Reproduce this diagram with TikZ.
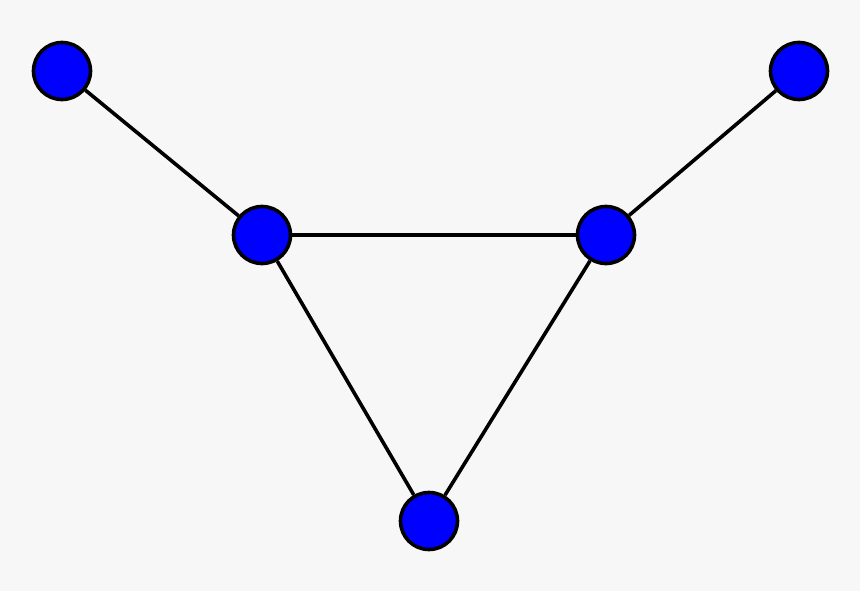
\documentclass[tikz,border=0pt]{standalone}
\begin{document}
\begin{tikzpicture}[x=1pt,y=-1pt,
  vtx/.style={circle,draw=black,fill=blue,line width=3.6pt,minimum size=57pt,inner sep=0pt},
  edge/.style={line width=3.6pt,draw=black}]
\fill[black!3] (0,0) rectangle (860,591);
\useasboundingbox (0,0) rectangle (860,591);
\node[vtx] (a) at (62,71) {};
\node[vtx] (b) at (262,235) {};
\node[vtx] (c) at (606,235) {};
\node[vtx] (d) at (799,71) {};
\node[vtx] (e) at (429,521) {};
\draw[edge] (a) -- (b);
\draw[edge] (b) -- (c);
\draw[edge] (c) -- (d);
\draw[edge] (b) -- (e);
\draw[edge] (c) -- (e);
\end{tikzpicture}
\end{document}
